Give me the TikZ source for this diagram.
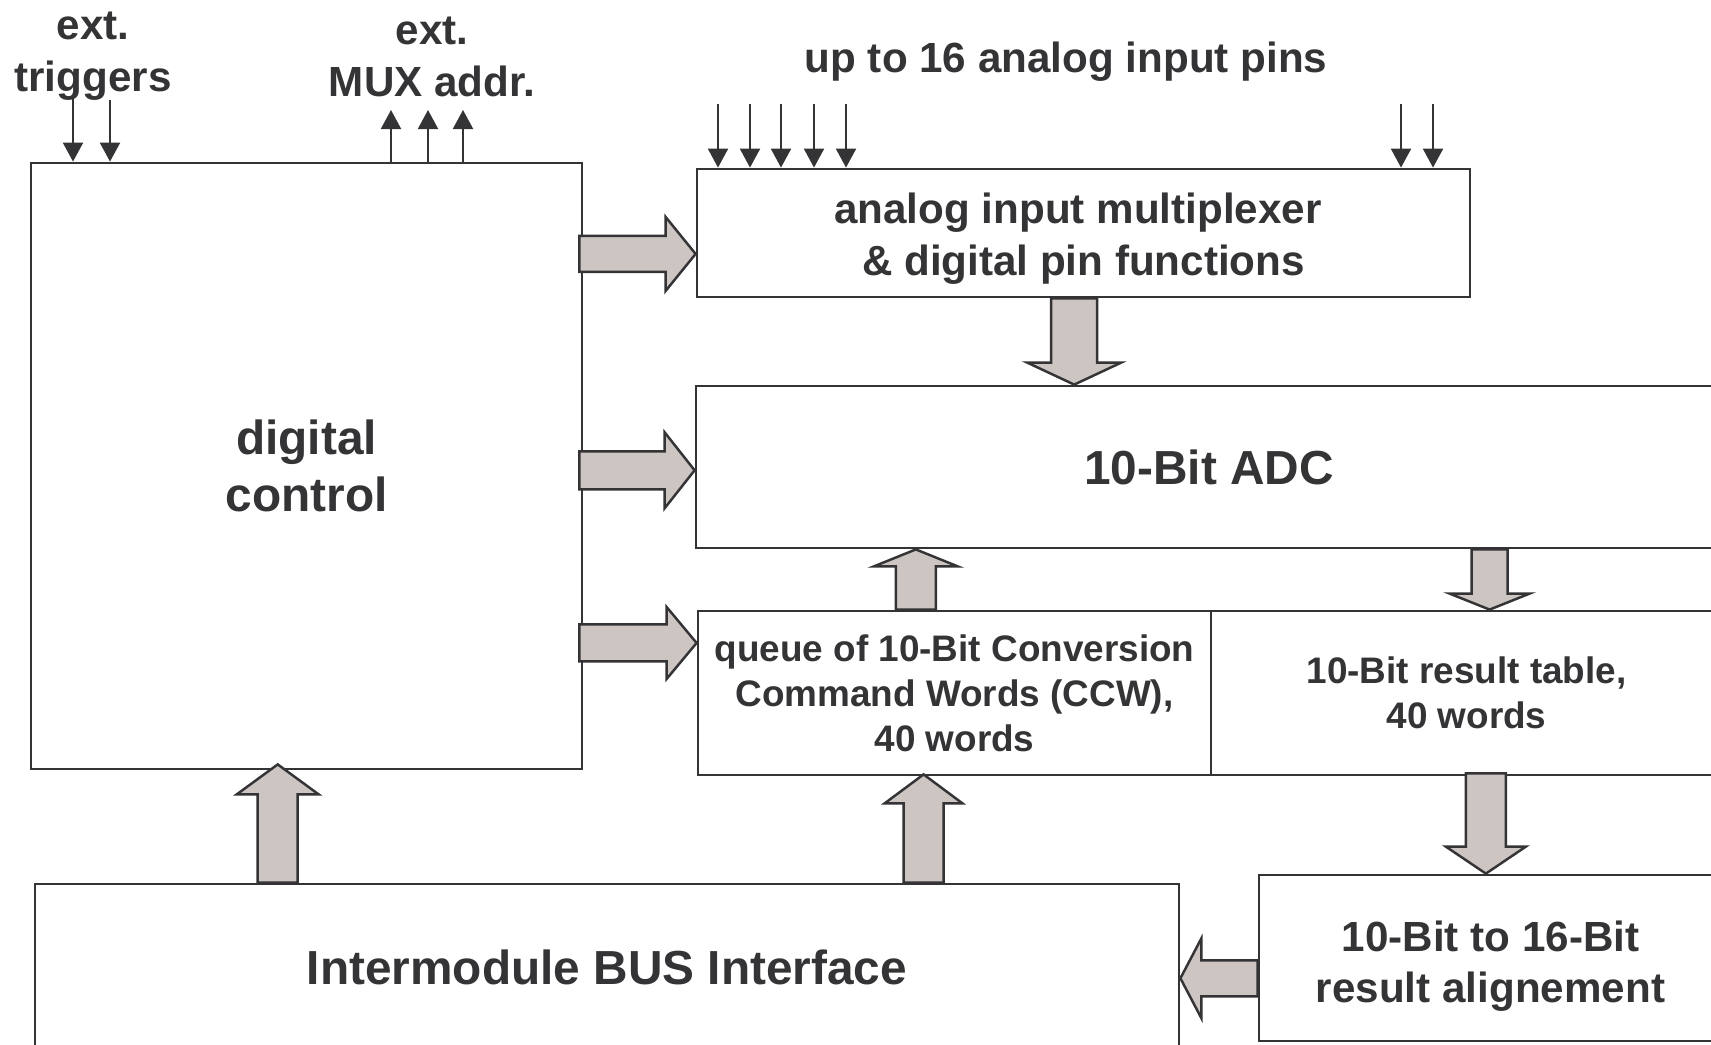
\documentclass[tikz,border=0pt]{standalone}
\usepackage{fontspec}
\setmainfont{Liberation Sans}
\usepackage{tikz}
\usetikzlibrary{arrows.meta,calc}
\definecolor{ink}{RGB}{52,52,55}
\definecolor{arrowfill}{RGB}{204,197,194}

\begin{document}
\begin{tikzpicture}[x=0.1mm,y=-0.1mm]
\tikzset{box/.style = {shape=rectangle,draw=ink,line width=0.8pt,text=ink,align=center,inner sep=0pt}}
\tikzset{lbl/.style = {text=ink,align=center,inner sep=0pt}}
\tikzset{bigtext/.style = {font=\fontsize{13.6}{16.2}\selectfont\bfseries}}
\tikzset{midtext/.style = {font=\fontsize{12}{14.7}\selectfont\bfseries}}
\tikzset{smalltext/.style = {font=\fontsize{10.5}{12.8}\selectfont\bfseries}}
\tikzset{pinarrow/.style = {draw=ink,line width=0.6pt,-{Triangle[length=1.9mm,width=2mm]}}}
\tikzset{fat/.style args = {#1/#2/#3}{draw=ink,fill=arrowfill,line width=0.7pt,
  to path={($(\tikztostart)!#1!90:(\tikztotarget)$)
    -- ($(\tikztotarget)!#3!(\tikztostart)!#1!-90:(\tikztostart)$)
    -- ($(\tikztotarget)!#3!(\tikztostart)!#2!-90:(\tikztostart)$)
    -- (\tikztotarget)
    -- ($(\tikztotarget)!#3!(\tikztostart)!#2!90:(\tikztostart)$)
    -- ($(\tikztotarget)!#3!(\tikztostart)!#1!90:(\tikztostart)$)
    -- ($(\tikztostart)!#1!-90:(\tikztotarget)$) -- cycle}}}

\useasboundingbox (0,0) rectangle (1711,1044);
\clip (0,0) rectangle (1711,1044);
\fill[white] (0,0) rectangle (1711,1044);

% blocks
\node[box,bigtext,minimum width=55.1mm,minimum height=60.6mm] (dc) at (306.5,466) {digital\\control};
\node[box,minimum width=77.3mm,minimum height=12.8mm] (mux) at (1083.5,233) {};
\node[lbl,midtext] (muxtext) at ([yshift=-0.55mm]mux.center) {analog input multiplexer\kern1.1mm\\\& digital pin functions};
\node[box,bigtext,minimum width=102.6mm,minimum height=16.2mm] (adc) at (1209,467) {10-Bit ADC};
\node[box,smalltext,minimum width=51.3mm,minimum height=16.4mm] (queue) at (954.5,693) {queue of 10-Bit Conversion\\Command Words (CCW),\\40 words};
\node[box,smalltext,minimum width=51.1mm,minimum height=16.4mm] (table) at (1466.5,693) {10-Bit result table,\\40 words};
\node[box,minimum width=46.3mm,minimum height=16.6mm] (align) at (1490.5,958) {};
\node[lbl,midtext] (aligntext) at ([yshift=-0.8mm]align.center) {10-Bit to 16-Bit\\result alignement};
\node[box,bigtext,minimum width=114.4mm,minimum height=16.6mm] (bus) at (607,967) {Intermodule BUS Interface};

% labels
\node[lbl,midtext] (trig) at (93,56) {ext.\\triggers};
\node[lbl,midtext] (addr) at (432,57) {ext.\\MUX addr.};
\node[lbl,midtext] (pins) at (1066,62) {up to 16 analog input pins};

% thin arrows
\coordinate (t1) at (73,98);
\coordinate (t2) at (110,100);
\draw[pinarrow] (t1) -- (t1 |- dc.north);
\draw[pinarrow] (t2) -- (t2 |- dc.north);
\foreach \x in {391,428,463} {
  \coordinate (m\x) at (\x,110);
  \draw[pinarrow] (m\x |- dc.north) -- (m\x);
}
\foreach \x in {718,750,781,814,846,1401,1433} {
  \coordinate (p\x) at (\x,104);
  \draw[pinarrow] (p\x) -- (p\x |- mux.north);
}

% block arrows
\coordinate (a1) at ($(mux.north west)!0.66!(mux.south west)$);
\coordinate (a2) at ($(adc.north west)!0.52!(adc.south west)$);
\coordinate (a3) at ($(queue.north west)!0.2!(queue.south west)$);
\coordinate (a4) at ($(mux.south west)!0.488!(mux.south east)$);
\coordinate (a5) at ($(queue.north west)!0.425!(queue.north east)$);
\coordinate (a6) at ($(table.north west)!0.545!(table.north east)$);
\coordinate (a7) at ($(align.north west)!0.49!(align.north east)$);
\coordinate (a8) at ($(align.north west)!0.62!(align.south west)$);
\coordinate (a9) at ($(dc.south west)!0.448!(dc.south east)$);
\coordinate (a10) at ($(queue.south west)!0.44!(queue.south east)$);
\draw[fat=1.8mm/3.7mm/3mm] ([xshift=-0.4mm]a1 -| dc.east) to (a1);
\draw[fat=1.9mm/3.8mm/3mm] ([xshift=-0.4mm]a2 -| dc.east) to (a2);
\draw[fat=1.85mm/3.6mm/3mm] ([xshift=-0.4mm]a3 -| dc.east) to (a3);
\draw[fat=2.3mm/4.7mm/2.2mm] (a4) to (a4 |- adc.north);
\draw[fat=2mm/4.2mm/1.7mm] (a5) to (a5 |- adc.south);
\draw[fat=1.8mm/4mm/1.6mm] (a6 |- adc.south) to (a6);
\draw[fat=2mm/4mm/2.7mm] ([yshift=0.3mm]a7 |- table.south) to (a7);
\draw[fat=1.8mm/4mm/2.1mm] (a8) to (a8 -| bus.east);
\draw[fat=2mm/4.1mm/3mm] (a9 |- bus.north) to ([yshift=0.6mm]a9);
\draw[fat=2mm/3.9mm/2.9mm] (a10 |- bus.north) to ([yshift=0.2mm]a10);
\end{tikzpicture}
\end{document}
